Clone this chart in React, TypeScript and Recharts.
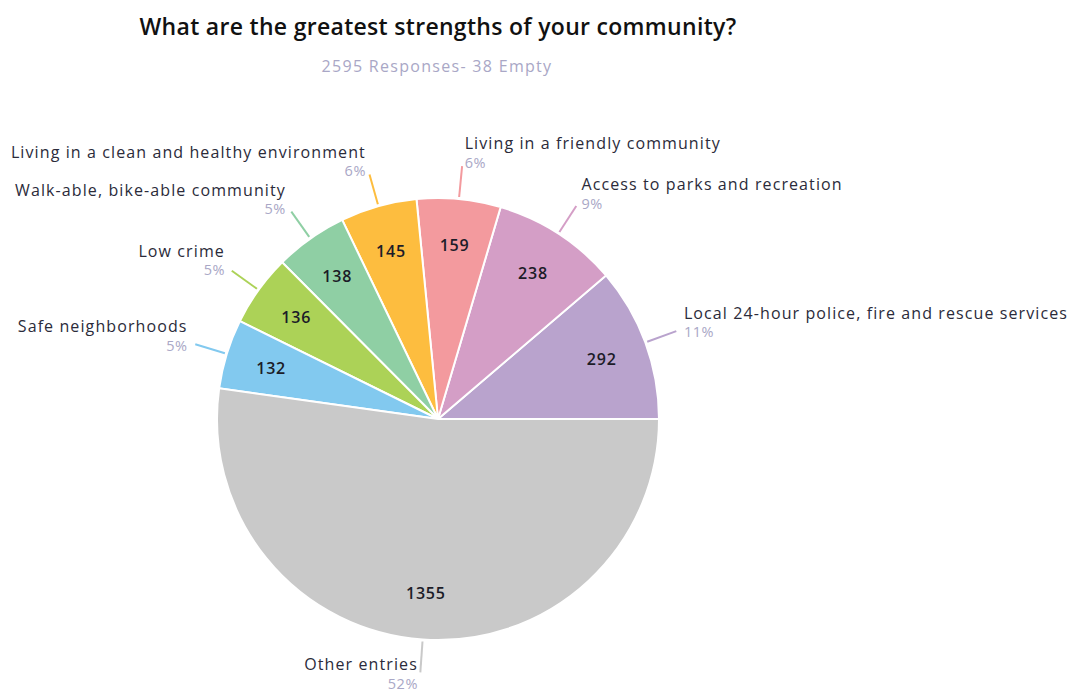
import React from "react";
import { PieChart, Pie, Cell } from "recharts";

const categories = [
  "Local 24-hour police, fire and rescue services",
  "Access to parks and recreation",
  "Living in a friendly community",
  "Living in a clean and healthy environment",
  "Walk-able, bike-able community",
  "Low crime",
  "Safe neighborhoods",
  "Other entries",
];
const responses = [292, 238, 159, 145, 138, 136, 132, 1355];
const sliceColors = [
  "#b9a3cd",
  "#d49ec6",
  "#f39a9e",
  "#fdbd3f",
  "#8fcfa4",
  "#acd257",
  "#82c9ef",
  "#c9c9c9",
];
const titleText = "What are the greatest strengths of your community?";
const subtitleText = "2595 Responses- 38 Empty";

const data = categories.map((name, i) => ({ name, value: responses[i] }));

const RAD = Math.PI / 180;
const FONT = "'Open Sans', 'Noto Sans', sans-serif";

const renderLabel = (props: any) => {
  const { cx, cy, midAngle, outerRadius, percent, name, value, index } = props;
  const cos = Math.cos(-midAngle * RAD);
  const sin = Math.sin(-midAngle * RAD);
  const r0 = outerRadius + 2;
  const r1 = outerRadius + 33;
  const sx = cx + r0 * cos;
  const sy = cy + r0 * sin;
  const ex = cx + r1 * cos;
  const ey = cy + r1 * sin;
  const right = cos >= 0;
  const dx = (2 + 6 * Math.abs(cos)) * (right ? 1 : -1);
  const lower = sin > 0.5;
  const py = ey + (lower ? 11 : 3 - 7 * Math.abs(sin));
  const ir = outerRadius * 0.79;
  const vx = cx + ir * cos;
  const vy = cy + ir * sin;
  return (
    <g key={`lbl-${index}`}>
      <line x1={sx} y1={sy} x2={ex} y2={ey} stroke={sliceColors[index]} strokeWidth={2} />
      <text
        x={ex + dx}
        y={py - 19}
        textAnchor={right ? "start" : "end"}
        dominantBaseline="central"
        fill="#2b2b3a"
        fontSize={16}
        letterSpacing={1.1}
        fontFamily={FONT}
      >
        {name}
      </text>
      <text
        x={ex + dx}
        y={py}
        textAnchor={right ? "start" : "end"}
        dominantBaseline="central"
        fill="#a9a7c6"
        fontSize={14.5}
        letterSpacing={0.5}
        fontFamily={FONT}
      >
        {`${Math.round(percent * 100)}%`}
      </text>
      <text
        x={vx}
        y={vy}
        textAnchor="middle"
        dominantBaseline="central"
        fill="#1c1c28"
        fontSize={16}
        fontWeight={600}
        letterSpacing={0.8}
        fontFamily={FONT}
      >
        {value}
      </text>
    </g>
  );
};

export default function App() {
  return (
    <div
      style={{
        position: "absolute",
        left: 0,
        top: 0,
        width: 1077,
        height: 692,
        background: "#fff",
        fontFamily: FONT,
      }}
    >
      <div
        style={{
          position: "absolute",
          left: 0,
          top: 10,
          width: 876,
          textAlign: "center",
          fontSize: 23,
          fontWeight: 600,
          letterSpacing: 0.3,
          color: "#111",
          lineHeight: "32px",
        }}
      >
        {titleText}
      </div>
      <div
        style={{
          position: "absolute",
          left: 0,
          top: 55,
          width: 874,
          textAlign: "center",
          fontSize: 16,
          letterSpacing: 1.3,
          color: "#a9a7c6",
          lineHeight: "22px",
        }}
      >
        {subtitleText}
      </div>
      <div style={{ position: "absolute", left: 0, top: 0 }}>
        <PieChart width={1077} height={692} margin={{ top: 0, right: 0, bottom: 0, left: 0 }}>
          <Pie
            data={data}
            dataKey="value"
            nameKey="name"
            cx={438}
            cy={419}
            outerRadius={221}
            startAngle={0}
            endAngle={360}
            stroke="#ffffff"
            strokeWidth={2}
            label={renderLabel}
            labelLine={false}
            isAnimationActive={false}
          >
            {data.map((d, i) => (
              <Cell key={d.name} fill={sliceColors[i]} />
            ))}
          </Pie>
        </PieChart>
      </div>
    </div>
  );
}
